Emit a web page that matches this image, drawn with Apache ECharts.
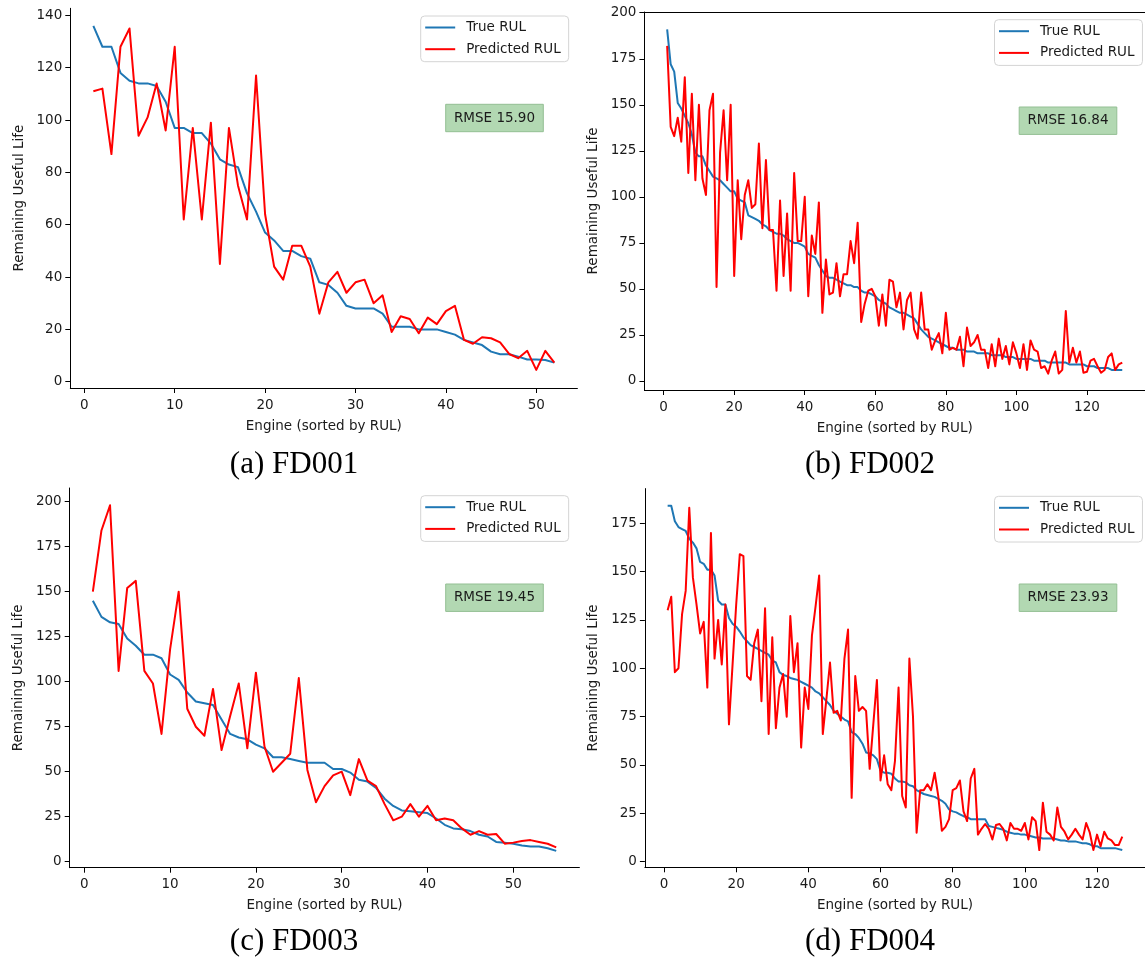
<!DOCTYPE html>
<html>
<head>
<meta charset="utf-8">
<script src="https://cdn.jsdelivr.net/npm/echarts@6/dist/echarts.min.js"></script>
<style>
html,body{margin:0;padding:0;background:#fff;}
#chart{width:1145px;height:960px;}
</style>
</head>
<body>
<div id="chart"></div>
<script>
// ---------- DATA ----------
const captions = ['(a) FD001', '(b) FD002', '(c) FD003', '(d) FD004'];
const rmseVals = ['15.90', '16.84', '19.45', '23.93'];
const seriesNames = ['True RUL', 'Predicted RUL'];
const xAxisName = 'Engine (sorted by RUL)';
const yAxisName = 'Remaining Useful Life';

const xTicksA = [0, 10, 20, 30, 40, 50];
const yTicksA = [0, 20, 40, 60, 80, 100, 120, 140];
const xTicksB = [0, 20, 40, 60, 80, 100, 120];
const yTicksB = [0, 25, 50, 75, 100, 125, 150, 175, 200];
const xTicksC = [0, 10, 20, 30, 40, 50];
const yTicksC = [0, 25, 50, 75, 100, 125, 150, 175, 200];
const xTicksD = [0, 20, 40, 60, 80, 100, 120];
const yTicksD = [0, 25, 50, 75, 100, 125, 150, 175];

// FD001 (52 engines)
const trueA = [136,128,128,118,115,114,114,113,107,97,97,95,95,91,85,83,82,72,65,57,54,50,50,48,47,38,37,34,29,28,28,28,26,21,21,21,20,20,20,19,18,16,15,14,11.5,10.5,10.5,9.6,8.5,8.5,8.3,7.3];
const predA = [111,112,87,128,135,94,101,114,96,128,62,97,62,99,45,97,75,62,117,64,44,39,52,52,44,26,38,42,34,38,39,30,33,19,25,24,18.5,24.5,22,27,29,16,14.5,17,16.6,15,10.6,9,11.8,4.5,11.8,7.3];

// FD002 (130 engines)
const trueB = [191,172,168,151,148,144,140,134,124,122,122,117,114,111,110,109,107,105,103,103,99,98,97,90,89,88,87,85,84,82,81,80,80,79,77,76,75,75,74,73,69,68,67,63,60,57,56,56,55,54,53,52,52,51,51,49,48,48,47,46,44,43,42,40,39,38,37,37,36,35,34,31,28,26,24,23,22,21,20,19,18,18,17,17,17,16,16,16,15,15,15,15,14,14,14,14,13,13,13,12,12,12,12,12,11,11,11,11,10,10,10,10,10,10,9,9,9,9,9,8,8,8,7,7,7,7,6,6,6,6];
const predB = [182,138,133,143,130,165,113,156,109,150,110,101,147,156,51,124,147,109,150,57,109,77,101,109,94,96,129,83,120,82,82,49,98,57,91,49,113,76,76,100,46,79,69,97,37,66,47,48,64,46,58,58,76,64,86,32,42,49,50,46,30,47,30,55,54,40,48,28,44,48,28,23,48,28,28,17,22,26,15,37,17,18,17,24,8,29,19,21,25,17,17,7,20,8,23,12,19,9,21,15,7,20,6,22,17,16,7,8,4,11,16,4,6,38,10,18,10,16,4.5,5,11,12,8,4.5,6,13,15,6,9,10];

// FD003 (55 engines)
const trueC = [145,136,133,132,124,120,115,115,113,104,101,94,89,88,87,79,71,69,68,65,63,58,58,57,56,55,55,55,51.5,51.5,49.5,45.5,44.5,41,35,31,28.5,28,27.5,27,24,20.5,18.5,18,17,15,14,11,10.5,10,9,8.5,8.5,7.5,6];
const predC = [150,184,198,106,152,156,106,99,71,118,150,85,75,70,96,62,81,99,63,105,64,50,55,60,102,51,33,42,48,50,37,57,45,42,32,23,25,32,25,31,23,24,23,18.5,15,17,15,15.4,10,10.6,11.5,12,11,10,8];

// FD004 (127 engines)
const trueD = [184,184,176,173,172,171,167,165,162,155,154,151,151,148,135,133,133,126,123,121.5,119,116,114,112,111,110,109,108,107,104,103,98,96.5,96,95,94.5,94,93,92,91,90,88,87,85,83,81,78,76.5,75,73.5,72.5,67,66,64,61,56.5,56,55,53,47,46,46,45.5,43,41.5,41.5,41,39.5,39,37,36,35,34.5,34,33.5,32.5,31.5,30,27,26,25.5,24.5,23.5,23,22,22,22,22,22,18.5,18,17.5,17,16.5,15.5,15,14.5,14.5,14,14,13.5,13,12.5,12.5,12,12,12,12,11.5,11,11,10.5,10.5,10.5,10,9.5,9.5,9,8,8,7,7,7,7,7,6.5,6];
const predD = [130,137,98,100,128,140,183,147,133,118,124,90,170,105,125,102,133,71,102,133,159,158,96,94,113,120,83,131,66,116,69,90,97,75,127,98,113,59,90,79,117,132,148,66,84,103,77,78,73,105,120,33,96,78,80,78,48,71,94,42,55,40,37,52,90,34,28,105,75,15,37,37,40,37,46,34,16,18,22,37,38,42,26,21,43,48,14,17,19.5,17,11.5,19,19.5,17,11,20,17,17,16,20,11.5,23,21,6,30.5,15.5,14,11,28,18,15.5,11.5,14,17,14,11.5,20,15,6,14,8,15.5,12,11,8.6,8.6,13];

// ---------- STYLE / LAYOUT ----------
const BLUE = '#1f77b4', RED = '#ff0000', INK = '#1a1a1a';
const SANS = 'DejaVu Sans';
const FS = 13.5;

const panels = [
  {grid:{left:70.3, top:8.3, width:507.1, height:379.7}, x:[-1.55,54.55], y:[-2.4,142.7], xt:xTicksA, yt:yTicksA, t:trueA, p:predA,
   legend:{left:420.7, top:16}, box:{x:445.7, y:104.3}, cap:{x:294, y:465}},
  {grid:{left:644.4, top:12, width:509.6, height:378}, x:[-5.45,136.45], y:[-4.9,200.4], xt:xTicksB, yt:yTicksB, t:trueB, p:predB,
   legend:{left:994.5, top:19.7}, box:{x:1019.2, y:107}, cap:{x:870, y:465}},
  {grid:{left:69.7, top:488, width:509.7, height:379.7}, x:[-1.7,57.7], y:[-3.33,207.6], xt:xTicksC, yt:yTicksC, t:trueC, p:predC,
   legend:{left:420.7, top:495.7}, box:{x:445.7, y:584}, cap:{x:294, y:942}},
  {grid:{left:644.9, top:488.6, width:508.2, height:378.7}, x:[-5.3,133.3], y:[-2.9,192.9], xt:xTicksD, yt:yTicksD, t:trueD, p:predD,
   legend:{left:994.5, top:496.3}, box:{x:1019.2, y:584}, cap:{x:870, y:942}}
];

const grids = [], xAxes = [], yAxes = [], legends = [], series = [], graphics = [];
const toXY = arr => arr.map((v, i) => [i + 1, v]);

panels.forEach((pn, k) => {
  grids.push(Object.assign({containLabel:false}, pn.grid));
  xAxes.push({
    gridIndex:k, type:'value', min:pn.x[0], max:pn.x[1],
    axisLine:{show:true, onZero:false, lineStyle:{color:'#000', width:1}},
    axisTick:{show:true, length:5, inside:false, customValues:pn.xt, lineStyle:{color:'#000', width:1}},
    axisLabel:{customValues:pn.xt, margin:10, fontSize:FS, color:INK, fontFamily:SANS},
    splitLine:{show:false},
    name:xAxisName, nameLocation:'middle', nameGap:31,
    nameTextStyle:{fontSize:FS, color:INK, fontFamily:SANS}
  });
  yAxes.push({
    gridIndex:k, type:'value', min:pn.y[0], max:pn.y[1],
    axisLine:{show:true, onZero:false, lineStyle:{color:'#000', width:1}},
    axisTick:{show:true, length:5, inside:false, customValues:pn.yt, lineStyle:{color:'#000', width:1}},
    axisLabel:{customValues:pn.yt, margin:8, fontSize:FS, color:INK, fontFamily:SANS},
    splitLine:{show:false},
    name:yAxisName, nameLocation:'middle', nameGap:44, nameRotate:90,
    nameTextStyle:{fontSize:FS, color:INK, fontFamily:SANS}
  });
  legends.push({
    left:pn.legend.left, top:pn.legend.top, orient:'vertical',
    icon:'rect', itemWidth:30, itemHeight:2, itemGap:6.7,
    padding:[4, 8, 5, 4.5],
    backgroundColor:'#ffffff', borderColor:'#d4d4d4', borderWidth:1, borderRadius:4,
    textStyle:{fontSize:FS, color:INK, fontFamily:SANS, lineHeight:15, padding:[0,0,0,6]},
    selectedMode:false,
    data:seriesNames
  });
  series.push({
    name:seriesNames[0], type:'line', xAxisIndex:k, yAxisIndex:k,
    data:toXY(pn.t), showSymbol:false, symbol:'none', silent:true,
    lineStyle:{color:BLUE, width:2, join:'round'}, itemStyle:{color:BLUE}, z:2
  });
  series.push({
    name:seriesNames[1], type:'line', xAxisIndex:k, yAxisIndex:k,
    data:toXY(pn.p), showSymbol:false, symbol:'none', silent:true,
    lineStyle:{color:RED, width:2, join:'round'}, itemStyle:{color:RED}, z:3
  });
  graphics.push({
    type:'rect', shape:{x:pn.box.x, y:pn.box.y, width:97.6, height:27.4},
    style:{fill:'#b2d8b2', stroke:'#93bf93', lineWidth:1}, z:10
  });
  graphics.push({
    type:'text', x:pn.box.x + 48.8, y:pn.box.y + 13.9,
    style:{text:'RMSE ' + rmseVals[k], fontSize:FS, fontFamily:SANS, fill:INK, align:'center', verticalAlign:'middle'}, z:11
  });
  graphics.push({
    type:'text', x:pn.cap.x, y:pn.cap.y,
    style:{text:captions[k], fontSize:31, fontFamily:'Liberation Serif', fill:'#000', align:'center', verticalAlign:'middle'}, z:11
  });
});

// top frame line of panel (b)
xAxes.push({
  gridIndex:1, type:'value', position:'top', min:panels[1].x[0], max:panels[1].x[1],
  axisLine:{show:true, onZero:false, lineStyle:{color:'#000', width:1}},
  axisTick:{show:false}, axisLabel:{show:false}, splitLine:{show:false}
});

const chart = echarts.init(document.getElementById('chart'), null, {renderer:'canvas', width:1145, height:960});
chart.setOption({
  animation:false,
  backgroundColor:'#ffffff',
  grid:grids, xAxis:xAxes, yAxis:yAxes, legend:legends, series:series, graphic:graphics
});
</script>
</body>
</html>
